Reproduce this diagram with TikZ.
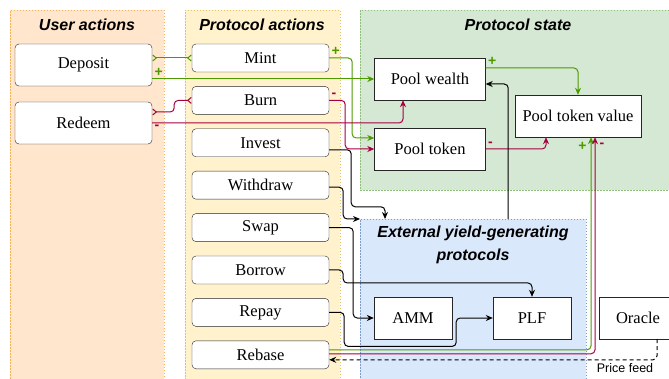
\documentclass[tikz,border=0pt]{standalone}
\usepackage{fontspec}
\setmainfont{Liberation Serif}
\setsansfont{Liberation Sans}
\usetikzlibrary{arrows.meta,positioning}
\definecolor{usrfill}{HTML}{FFE6CC}
\definecolor{usrline}{HTML}{F2B35C}
\definecolor{actfill}{HTML}{FFF2CC}
\definecolor{actline}{HTML}{E3C060}
\definecolor{statefill}{HTML}{D5E8D4}
\definecolor{stateline}{HTML}{8FC07A}
\definecolor{extfill}{HTML}{DAE8FC}
\definecolor{extline}{HTML}{7D9CCB}
\definecolor{plus}{HTML}{4D9900}
\definecolor{minus}{HTML}{A50040}
\tikzstyle{panel}=[dash pattern=on 1.5pt off 1.5pt,anchor=north west,inner sep=0pt]
\tikzstyle{title}=[font=\sffamily\bfseries\itshape\fontsize{16}{23}\selectfont]
\tikzstyle{action}=[draw=black!85,fill=white,rounded corners=4pt,minimum width=137pt,minimum height=28pt,font=\fontsize{16.5}{18}\selectfont]
\tikzstyle{user}=[action,minimum height=42pt]
\tikzstyle{var}=[draw=black!85,fill=white,minimum height=42pt,minimum width=111pt,font=\fontsize{16.5}{18}\selectfont]
\tikzstyle{link}=[->,line width=1pt,rounded corners=4pt]
\tikzstyle{foot}=[{Straight Barb[reversed,length=3.5pt,width=6pt]}-{Straight Barb[reversed,length=3.5pt,width=6pt]},line width=1pt,rounded corners=4pt]
\tikzstyle{sign}=[font=\sffamily\bfseries\fontsize{14}{16}\selectfont,inner sep=2pt]

\begin{document}
\begin{tikzpicture}[x=1pt,y=-1pt,>={Stealth[length=7pt,width=6pt]}]
  \useasboundingbox (0,0) rectangle (669,379);
  % Panels
  \node[panel,fill=usrfill,draw=usrline,minimum width=154pt,minimum height=375pt] (usr) at (10,10) {};
  \node[title] (usrT) at (87,25) {User actions};
  \node[panel,fill=actfill,draw=actline,minimum width=155pt,minimum height=375pt] (act) at (185,10) {};
  \node[title] (actT) at (262,25) {Protocol actions};
  \node[panel,fill=statefill,draw=stateline,minimum width=315pt,minimum height=180pt] (st) at (360,10) {};
  \node[title] (stT) at (518,25) {Protocol state};
  \node[panel,fill=extfill,draw=extline,minimum width=226pt,minimum height=165pt] (ext) at (360,219) {};
  \node[title,align=center] (extT) at (473,245) {External yield-generating\\protocols};

  % User actions
  \node[user] (dep) at (83.5,65) {Deposit};
  \node[user] (red) at (83.5,123) {Redeem};

  % Protocol actions
  \node[action] (mint) at (260.5,58) {Mint};
  \node[action,below=14pt of mint] (burn) {Burn};
  \node[action,below=14pt of burn] (inv) {Invest};
  \node[action,below=14pt of inv] (wd) {Withdraw};
  \node[action,below=14pt of wd] (swap) {Swap};
  \node[action,below=14pt of swap] (bor) {Borrow};
  \node[action,below=14pt of bor] (rep) {Repay};
  \node[action,below=14pt of rep] (reb) {Rebase};

  % State and protocols
  \node[var] (pw) at (430,79) {Pool wealth};
  \node[var] (ptok) at (430,149) {Pool token};
  \node[var,minimum width=126pt] (ptv) at (578,116) {Pool token value};
  \node[var,minimum width=78pt] (amm) at (413,318) {AMM};
  \node[var,minimum width=78pt] (plf) at (532,318) {PLF};
  \node[var,minimum width=78pt] (orc) at (638,318) {Oracle};

  % Green / red flows
  \draw[foot,plus] ([yshift=7pt]dep.east) -- (mint.west);
  \draw[foot,minus] ([yshift=11pt]red.east) -- ++(22,0) |- (burn.west);
  \draw[link,plus] (mint.east) node[sign,above right] {+} -- ++(23,0) |- ([yshift=11pt]ptok.west);
  \draw[link,plus] (dep.east |- pw.west) node[sign,above right] {+} -- (pw.west);
  \draw[link,minus] (burn.east) node[sign,above right] {-} -- ++(16,0) |- (ptok.west);
  \draw[link,minus] (red.east) node[sign,below right] {-} -| ([xshift=-27pt]pw.south);
  \draw[link,plus] ([yshift=11pt]pw.east) node[sign,above right] {+} -| (ptv.north);
  \draw[link,minus] (ptok.east) node[sign,above right] {-} -| ([xshift=-32pt]ptv.south);
  \draw[link,plus] ([yshift=5pt]reb.east) -| ([xshift=13pt]ptv.south) node[sign,below left=3pt and 2pt] {+};
  \draw[link,minus] ([yshift=1pt]reb.east) -| ([xshift=17pt]ptv.south) node[sign,below right=3pt and 2pt] {-};

  % Black flows
  \draw[link] ([xshift=35pt]ext.north) |- ([yshift=-5pt]pw.east);
  \draw[link] ([yshift=-7pt]inv.east) -- ++(22,0) -- ++(0,57) -| ([xshift=25pt]ext.north west);
  \draw[link] ([yshift=-2pt]wd.east) -- ++(14,0) |- (ext.north west);
  \draw[link] (swap.east) -- ++(24,0) |- (amm.west);
  \draw[link] (bor.east) -- ++(14,0) -- ++(0,13) -| (plf.north);
  \draw[link] (rep.east) -- ++(15,0) -- ++(0,34) -- ++(112,0) |- (plf.west);
  \draw[link,dash pattern=on 4pt off 3pt] ([xshift=19pt]orc.south) |- node[pos=0.5,below left,font=\sffamily\fontsize{12.5}{14}\selectfont] {Price feed} ([yshift=-5pt]reb.east);
\end{tikzpicture}
\end{document}
